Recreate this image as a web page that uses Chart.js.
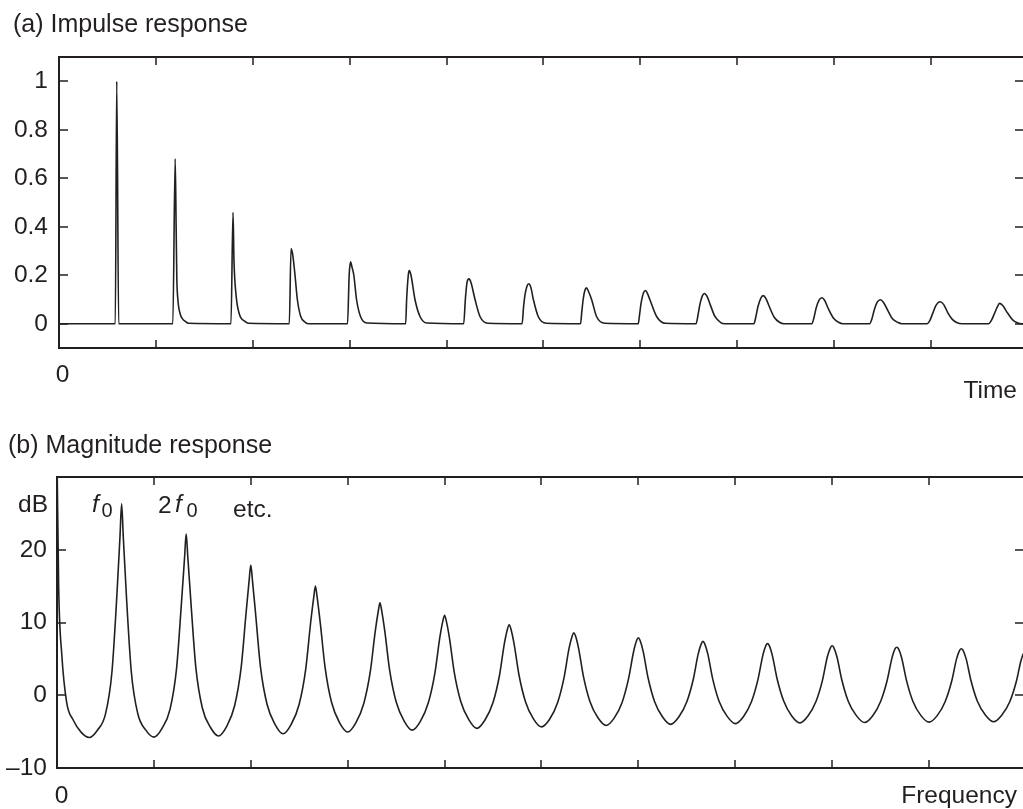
<!DOCTYPE html>
<html lang="en">
<head>
<meta charset="UTF-8" />
<title>Impulse and magnitude response</title>
<script src="https://cdn.jsdelivr.net/npm/chart.js@4.4.1/dist/chart.umd.min.js"></script>
<style>
  html, body { margin: 0; padding: 0; background: #fff; overflow: hidden; }
  #wrap { position: relative; width: 1023px; height: 809px; overflow: hidden; }
  canvas { position: absolute; left: 0; }
  #top { top: 0; }
  #bottom { top: 400px; }
</style>
</head>
<body>
<div id="wrap">
  <canvas id="top" width="1030" height="400"></canvas>
  <canvas id="bottom" width="1030" height="409"></canvas>
</div>
<script>
// (a) impulse response
const timeX = [
  0,
  0.581, 0.596, 0.616,
  1.175, 1.199, 1.209, 1.216, 1.227, 1.251, 1.275, 1.303, 1.335,
  1.775, 1.796, 1.806, 1.827, 1.861, 1.919, 1.955,
  2.377, 2.395, 2.412, 2.436, 2.46, 2.495, 2.542, 2.577,
  2.978, 2.995, 3.009, 3.023, 3.043, 3.071, 3.112, 3.178,
  3.578, 3.588, 3.605, 3.615, 3.633, 3.674, 3.726, 3.798,
  4.177, 4.194, 4.211, 4.232, 4.252, 4.294, 4.345, 4.427,
  4.78, 4.795, 4.81, 4.83, 4.848, 4.87, 4.896, 4.946, 5.03,
  5.383, 5.396, 5.41, 5.428, 5.445, 5.463, 5.497, 5.548, 5.633,
  5.978, 5.993, 6.008, 6.033, 6.054, 6.073, 6.098, 6.168, 6.258,
  6.575, 6.595, 6.615, 6.64, 6.662, 6.69, 6.72, 6.77, 6.83, 6.87,
  7.172, 7.193, 7.215, 7.243, 7.268, 7.297, 7.33, 7.38, 7.44, 7.48,
  7.77, 7.792, 7.815, 7.845, 7.873, 7.903, 7.937, 7.99, 8.05, 8.09,
  8.367, 8.39, 8.415, 8.447, 8.478, 8.51, 8.55, 8.6, 8.66, 8.7,
  8.96, 8.99, 9.02, 9.05, 9.094, 9.13, 9.174, 9.22, 9.27, 9.32,
  9.595, 9.625, 9.655, 9.685, 9.708, 9.74, 9.794, 9.84, 9.89, 9.94,
  9.96
];
const impulse = [
  0,
  0, 1.0, 0,
  0, 0.68, 0.40, 0.19, 0.10, 0.04, 0.02, 0.01, 0.002,
  0, 0.46, 0.26, 0.12, 0.04, 0.01, 0.002,
  0, 0.31, 0.285, 0.2, 0.1, 0.03, 0.006, 0,
  0, 0.2, 0.255, 0.235, 0.2, 0.1, 0.03, 0.003,
  0, 0.1, 0.2, 0.219, 0.2, 0.1, 0.03, 0.003,
  0, 0.1, 0.17, 0.185, 0.17, 0.1, 0.03, 0.002,
  0, 0.07, 0.12, 0.155, 0.165, 0.15, 0.1, 0.03, 0.002,
  0, 0.05, 0.1, 0.138, 0.148, 0.135, 0.1, 0.03, 0.002,
  0, 0.04, 0.085, 0.128, 0.137, 0.125, 0.1, 0.03, 0.002,
  0, 0.035, 0.08, 0.115, 0.125, 0.112, 0.08, 0.03, 0.005, 0,
  0, 0.03, 0.072, 0.105, 0.116, 0.104, 0.072, 0.028, 0.005, 0,
  0, 0.025, 0.065, 0.097, 0.107, 0.096, 0.065, 0.025, 0.005, 0,
  0, 0.02, 0.058, 0.09, 0.099, 0.088, 0.058, 0.022, 0.005, 0,
  0, 0.015, 0.045, 0.075, 0.091, 0.08, 0.045, 0.018, 0.004, 0,
  0, 0.015, 0.042, 0.07, 0.084, 0.075, 0.042, 0.017, 0.004, 0,
  0
];

// (b) magnitude response in dB, one row per peak-to-peak period
const freqX = [
  0, 0.017, 0.05, 0.1, 0.167, 0.25, 0.333, 0.417, 0.5, 0.567, 0.617, 0.65,
  0.667, 0.684, 0.717, 0.767, 0.834, 0.917, 1.0, 1.084, 1.167, 1.234, 1.284, 1.317,
  1.333, 1.35, 1.383, 1.433, 1.5, 1.583, 1.667, 1.75, 1.833, 1.9, 1.95, 1.983,
  2.0, 2.017, 2.05, 2.1, 2.167, 2.25, 2.333, 2.417, 2.5, 2.567, 2.617, 2.65,
  2.667, 2.684, 2.717, 2.767, 2.834, 2.917, 3.0, 3.084, 3.167, 3.234, 3.284, 3.317,
  3.333, 3.35, 3.383, 3.433, 3.5, 3.583, 3.667, 3.75, 3.833, 3.9, 3.95, 3.983,
  4.0, 4.017, 4.05, 4.1, 4.167, 4.25, 4.333, 4.417, 4.5, 4.567, 4.617, 4.65,
  4.667, 4.684, 4.717, 4.767, 4.834, 4.917, 5.0, 5.084, 5.167, 5.234, 5.284, 5.317,
  5.333, 5.35, 5.383, 5.433, 5.5, 5.583, 5.667, 5.75, 5.833, 5.9, 5.95, 5.983,
  6.0, 6.017, 6.05, 6.1, 6.167, 6.25, 6.333, 6.417, 6.5, 6.567, 6.617, 6.65,
  6.667, 6.684, 6.717, 6.767, 6.834, 6.917, 7.0, 7.084, 7.167, 7.234, 7.284, 7.317,
  7.333, 7.35, 7.383, 7.433, 7.5, 7.583, 7.667, 7.75, 7.833, 7.9, 7.95, 7.983,
  8.0, 8.017, 8.05, 8.1, 8.167, 8.25, 8.333, 8.417, 8.5, 8.567, 8.617, 8.65,
  8.667, 8.684, 8.717, 8.767, 8.834, 8.917, 9.0, 9.084, 9.167, 9.234, 9.284, 9.317,
  9.333, 9.35, 9.383, 9.433, 9.5, 9.583, 9.667, 9.75, 9.833, 9.9, 9.95, 9.983,
  10.0
];
const magDb = [
  33, 15, 5.5, -1.0, -3.4, -5.1, -5.8, -4.8, -2.6, 3.2, 13.5, 21.8,
  26.3, 21.8, 13.5, 3.2, -2.55, -4.8, -5.75, -4.55, -1.9, 3.7, 12.6, 19.0,
  22.2, 19.0, 12.6, 3.8, -1.75, -4.4, -5.6, -4.3, -1.45, 3.75, 11.1, 15.8,
  17.9, 15.8, 11.15, 3.9, -1.2, -4.0, -5.3, -4.0, -1.2, 3.6, 9.9, 13.5,
  15.0, 13.55, 9.95, 3.8, -1.0, -3.8, -5.05, -3.8, -1.1, 3.3, 8.75, 11.65,
  12.7, 11.7, 8.8, 3.45, -0.9, -3.55, -4.8, -3.6, -1.0, 3.05, 7.85, 10.25,
  11.0, 10.25, 7.9, 3.15, -0.85, -3.35, -4.55, -3.4, -1.0, 2.75, 7.1, 9.15,
  9.7, 9.15, 7.1, 2.85, -0.85, -3.25, -4.35, -3.3, -1.0, 2.5, 6.4, 8.15,
  8.6, 8.2, 6.45, 2.6, -0.85, -3.1, -4.15, -3.15, -0.95, 2.35, 5.95, 7.55,
  7.9, 7.55, 6.0, 2.4, -0.85, -3.0, -4.0, -3.0, -0.9, 2.2, 5.65, 7.1,
  7.4, 7.1, 5.65, 2.25, -0.85, -2.9, -3.9, -2.95, -0.9, 2.15, 5.45, 6.85,
  7.1, 6.85, 5.45, 2.2, -0.8, -2.85, -3.8, -2.85, -0.85, 2.05, 5.25, 6.55,
  6.8, 6.55, 5.25, 2.1, -0.85, -2.8, -3.75, -2.85, -0.85, 2.0, 5.1, 6.4,
  6.6, 6.4, 5.15, 2.05, -0.85, -2.8, -3.7, -2.8, -0.85, 1.95, 5.0, 6.2,
  6.4, 6.2, 5.0, 2.0, -0.85, -2.75, -3.65, -2.75, -0.9, 1.85, 4.8, 6.0,
  6.2
];

const impulseTicks = [0, 0.2, 0.4, 0.6, 0.8, 1];
const dbTicks = [-10, 0, 10, 20, 30];
const axisTicks = [1, 2, 3, 4, 5, 6, 7, 8, 9];

const INK = "#231f20";
const FONT = '"Liberation Sans", Arial, Helvetica, sans-serif';
const LABEL_SIZE = 24.5;

// frame, inward tick marks and the free text of each panel
const framePlugin = {
  id: "frame",
  afterDraw(chart, args, opts) {
    const { ctx, chartArea: a, scales } = chart;
    ctx.save();
    ctx.strokeStyle = INK;
    ctx.lineWidth = 2;
    ctx.strokeRect(a.left, a.top, a.right - a.left, a.bottom - a.top);
    ctx.beginPath();
    for (const v of axisTicks) {
      const px = Math.round(scales.x.getPixelForValue(v));
      ctx.moveTo(px, a.top); ctx.lineTo(px, a.top + 8);
      ctx.moveTo(px, a.bottom); ctx.lineTo(px, a.bottom - 8);
    }
    for (const v of opts.yMarks) {
      const py = Math.round(scales.y.getPixelForValue(v));
      ctx.moveTo(a.left, py); ctx.lineTo(a.left + 9, py);
      ctx.moveTo(a.right, py); ctx.lineTo(a.right - 9, py);
    }
    ctx.lineWidth = 1.5;
    ctx.stroke();

    ctx.fillStyle = INK;
    ctx.textBaseline = "alphabetic";
    for (const t of opts.texts) {
      ctx.font = (t.italic ? "italic " : "") + (t.size || LABEL_SIZE) + "px " + FONT;
      ctx.textAlign = t.align || "left";
      ctx.fillText(t.text, t.x, t.y);
    }
    ctx.restore();
  }
};

function makeChart(id, xs, ys, cfg) {
  new Chart(document.getElementById(id), {
    type: "line",
    data: {
      datasets: [{
        data: xs.map((x, i) => ({ x: x, y: ys[i] })),
        borderColor: INK,
        borderWidth: 1.6,
        pointRadius: 0,
        cubicInterpolationMode: "monotone",
        fill: false
      }]
    },
    options: {
      responsive: false,
      animation: false,
      devicePixelRatio: 1,
      layout: { padding: { top: cfg.top, bottom: cfg.bottom, left: 0, right: 6 } },
      plugins: {
        legend: { display: false },
        tooltip: { enabled: false },
        frame: { yMarks: cfg.yMarks, texts: cfg.texts }
      },
      scales: {
        x: { type: "linear", min: 0, max: cfg.xMax, display: false },
        y: {
          type: "linear",
          min: cfg.yMin,
          max: cfg.yMax,
          grid: { display: false, drawTicks: false },
          border: { display: false },
          afterBuildTicks: (s) => { s.ticks = cfg.yTicks.map((v) => ({ value: v })); },
          afterFit: (s) => { s.width = cfg.left; },
          ticks: {
            padding: cfg.labelPad,
            color: INK,
            font: { family: FONT, size: LABEL_SIZE },
            callback: cfg.label
          }
        }
      }
    },
    plugins: [framePlugin]
  });
}

makeChart("top", timeX, impulse, {
  top: 57, bottom: 52, left: 59, labelPad: 11,
  xMax: 9.96, yMin: -0.1, yMax: 1.1,
  yTicks: impulseTicks, yMarks: impulseTicks,
  label: (v) => String(Math.round(v * 10) / 10),
  texts: [
    { text: "(a) Impulse response", x: 13, y: 31.5, size: 25 },
    { text: "0", x: 62.5, y: 381.5, align: "center" },
    { text: "Time", x: 1017, y: 398, align: "right" }
  ]
});

makeChart("bottom", freqX, magDb, {
  top: 77, bottom: 41, left: 57, labelPad: 10,
  xMax: 9.98, yMin: -10, yMax: 30,
  yTicks: dbTicks, yMarks: [0, 10, 20],
  label: (v) => (v === 30 ? "" : v < 0 ? "\u2013" + Math.abs(v) : String(v)),
  texts: [
    { text: "(b) Magnitude response", x: 8, y: 53.3, size: 25 },
    { text: "dB", x: 48, y: 111.7, align: "right" },
    { text: "f", x: 92, y: 111.7, italic: true },
    { text: "0", x: 101.5, y: 117, size: 20 },
    { text: "2", x: 158, y: 112.5 },
    { text: "f", x: 175, y: 111.7, italic: true },
    { text: "0", x: 186.5, y: 117, size: 20 },
    { text: "etc.", x: 233, y: 116.7 },
    { text: "0", x: 61.5, y: 403, align: "center" },
    { text: "Frequency", x: 1017, y: 403, align: "right" }
  ]
});
</script>
</body>
</html>
